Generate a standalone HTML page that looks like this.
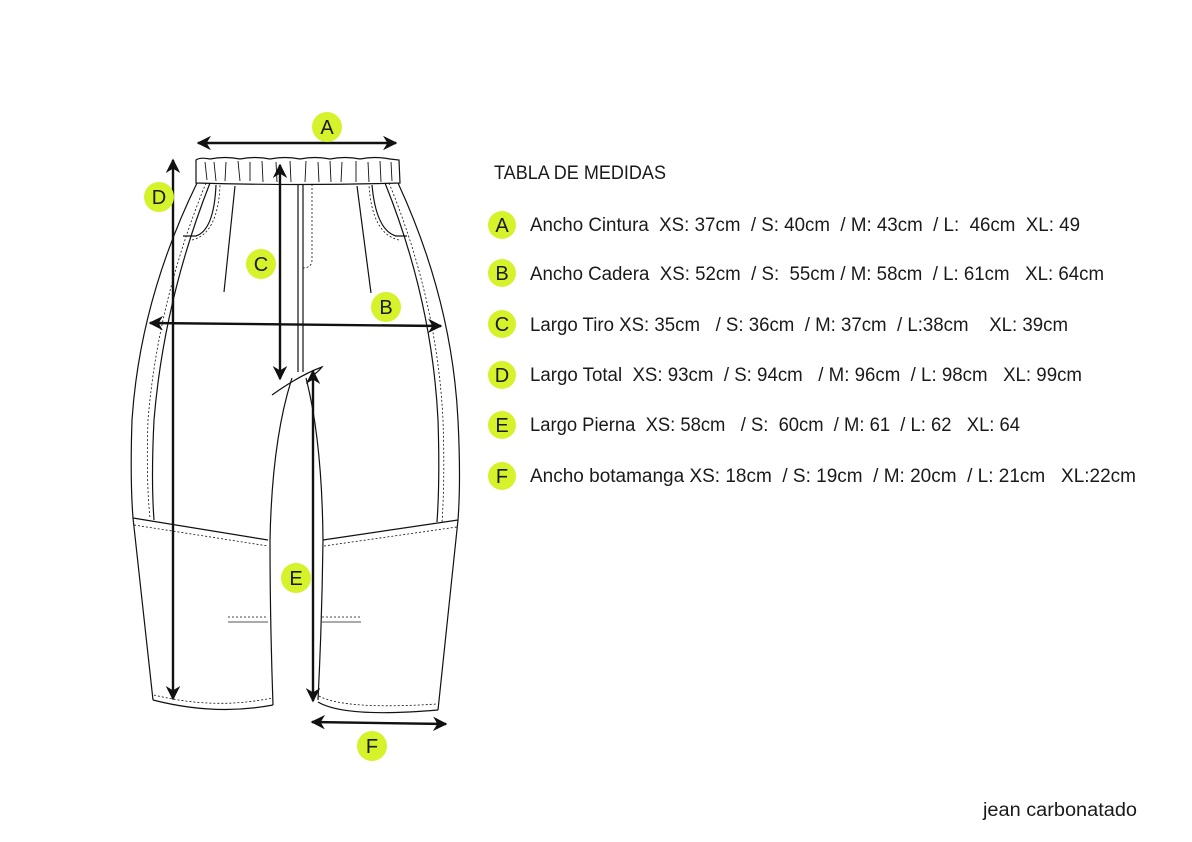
<!DOCTYPE html>
<html><head><meta charset="utf-8"><style>
html,body{margin:0;padding:0;background:#fff;}
svg{display:block;}
text{font-family:"Liberation Sans",sans-serif;fill:#1a1a1a;white-space:pre;}
</style></head><body>
<svg width="1192" height="842" viewBox="0 0 1192 842" xmlns="http://www.w3.org/2000/svg">
<defs>
<marker id="ah" viewBox="0 0 10 10" refX="9" refY="5" markerWidth="6" markerHeight="6" orient="auto-start-reverse">
<path d="M0,0 L10,5 L0,10 L3,5 Z" fill="#111"/>
</marker>
</defs>
<g fill="none" stroke="#111" stroke-width="1.2">
<path d="M196,160 Q200,157 210,159 Q225,156 240,159 Q255,156 270,159 Q285,156 300,159 Q315,156 330,159 Q345,156 360,159 Q375,156 390,159 L399,160 L400,183 Q300,186 196,183 Z" fill="#fff"/>
<path d="M205,162 L207,180 M214,162 L216,181 M226,162 L225,181 M238,161 L240,181 M250,162 L250,181 M262,161 L263,182 M276,162 L277,182 M290,161 L291,182 M306,161 L305,182 M318,162 L319,182 M330,161 L331,182 M342,162 L341,182 M356,161 L356,182 M368,162 L369,182 M380,161 L381,182 M391,162 L392,181" stroke-width="0.9"/>
<path d="M197,183 Q140,300 132,420 Q130,480 133,518 L153,700"/>
<path d="M206,183 Q158,300 148,420 Q146,480 150,518" stroke-dasharray="2,2" stroke-width="0.8"/>
<path d="M210,183 Q164,300 154,420 Q151,480 154,520"/>
<path d="M398,183 Q452,300 458,420 Q461,480 458,520 L438,710"/>
<path d="M389,183 Q437,300 443,420 Q445,480 442,522" stroke-dasharray="2,2" stroke-width="0.8"/>
<path d="M385,183 Q432,300 438,420 Q440,480 437,522"/>
<path d="M183,236 L196,236 Q214,230 216,185"/>
<path d="M192,240 Q218,234 220,185" stroke-dasharray="2,2" stroke-width="0.8"/>
<path d="M407,236 L396,236 Q376,230 372,185"/>
<path d="M399,240 Q372,234 369,185" stroke-dasharray="2,2" stroke-width="0.8"/>
<path d="M235,186 L224,292"/>
<path d="M357,186 L371,293"/>
<path d="M298,184 L298,372"/>
<path d="M303,184 L303,372"/>
<path d="M312,184 L312,260 Q312,268 302,268" stroke-dasharray="2,2" stroke-width="0.8"/>
<path d="M272,395 Q300,375 322,367 Q318,372 312,376"/>
<path d="M292,378 Q272,440 270,540 Q270,620 273,705"/>
<path d="M306,378 Q322,440 323,540 Q322,620 318,700"/>
<path d="M133,518 L268,540"/>
<path d="M134,525 L268,546" stroke-dasharray="2,2" stroke-width="0.8"/>
<path d="M323,540 L458,520"/>
<path d="M324,546 L457,527" stroke-dasharray="2,2" stroke-width="0.8"/>
<path d="M228,622 L268,622 M322,622 L361,622" stroke="#777" stroke-width="1.2"/>
<path d="M228,617 L268,617 M322,617 L361,617" stroke-dasharray="2,2" stroke-width="0.8"/>
<path d="M153,700 Q215,716 273,705"/>
<path d="M154,695 Q215,710 272,698" stroke-dasharray="2,2" stroke-width="0.8"/>
<path d="M318,702 Q345,718 438,710"/>
<path d="M319,696 Q345,710 437,704" stroke-dasharray="2,2" stroke-width="0.8"/>
</g>
<g stroke="#111" stroke-width="2.4" fill="none" marker-start="url(#ah)" marker-end="url(#ah)">
<line x1="198" y1="143" x2="396" y2="143"/>
<line x1="173" y1="160" x2="173" y2="699"/>
<line x1="280" y1="165" x2="280" y2="379"/>
<line x1="150" y1="323" x2="441" y2="326"/>
<line x1="313" y1="371" x2="313" y2="701"/>
<line x1="312" y1="722" x2="446" y2="724"/>
</g>
<g fill="#d6f22a">
<circle cx="327" cy="127" r="15"/><circle cx="159" cy="197" r="15"/>
<circle cx="261" cy="264" r="15"/><circle cx="386" cy="307" r="15"/>
<circle cx="296" cy="578" r="15"/><circle cx="372" cy="746" r="15"/>
<circle cx="502" cy="225" r="14"/><circle cx="502" cy="273" r="14"/>
<circle cx="502" cy="324" r="14"/><circle cx="502" cy="375" r="14"/>
<circle cx="502" cy="425" r="14"/><circle cx="502" cy="476" r="14"/>
</g>
<g font-size="20" text-anchor="middle">
<text x="327" y="134">A</text><text x="159" y="204">D</text>
<text x="261" y="271">C</text><text x="386" y="314">B</text>
<text x="296" y="585">E</text><text x="372" y="753">F</text>
<text x="502" y="232">A</text><text x="502" y="280">B</text>
<text x="502" y="331">C</text><text x="502" y="382">D</text>
<text x="502" y="432">E</text><text x="502" y="483">F</text>
</g>
<g font-size="19">
<text x="494" y="179" textLength="172" lengthAdjust="spacingAndGlyphs">TABLA DE MEDIDAS</text>
<text x="530" y="231" textLength="550" lengthAdjust="spacingAndGlyphs">Ancho Cintura  XS: 37cm  / S: 40cm  / M: 43cm  / L:  46cm  XL: 49</text>
<text x="530" y="280" textLength="574" lengthAdjust="spacingAndGlyphs">Ancho Cadera  XS: 52cm  / S:  55cm / M: 58cm  / L: 61cm   XL: 64cm</text>
<text x="530" y="331" textLength="538" lengthAdjust="spacingAndGlyphs">Largo Tiro XS: 35cm   / S: 36cm  / M: 37cm  / L:38cm    XL: 39cm</text>
<text x="530" y="381" textLength="552" lengthAdjust="spacingAndGlyphs">Largo Total  XS: 93cm  / S: 94cm   / M: 96cm  / L: 98cm   XL: 99cm</text>
<text x="530" y="431" textLength="490" lengthAdjust="spacingAndGlyphs">Largo Pierna  XS: 58cm   / S:  60cm  / M: 61  / L: 62   XL: 64</text>
<text x="530" y="482" textLength="606" lengthAdjust="spacingAndGlyphs">Ancho botamanga XS: 18cm  / S: 19cm  / M: 20cm  / L: 21cm   XL:22cm</text>
<text x="983" y="816" textLength="154" lengthAdjust="spacingAndGlyphs">jean carbonatado</text>
</g>
</svg>
</body></html>
